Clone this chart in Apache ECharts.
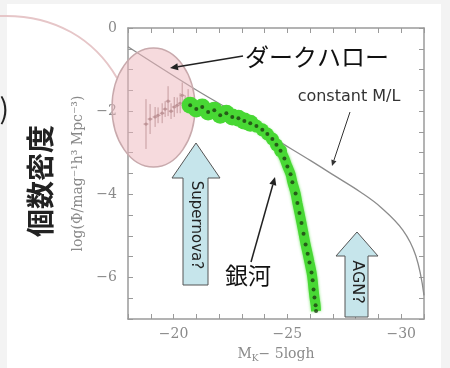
<!DOCTYPE html>
<html>
<head>
<meta charset="utf-8">
<script src="https://cdn.jsdelivr.net/npm/echarts@6/dist/echarts.min.js"></script>
<style>
html,body{margin:0;padding:0;background:#f3f3f3;}
#c{width:450px;height:368px;}
</style>
</head>
<body>
<div id="c"></div>
<script>
// ---- data ----
// x-axis: M_K - 5 log h (reversed), y-axis: log(Phi)
const xTickLabels = [-20, -25, -30];
const yTickLabels = [0, -2, -4, -6];

// "constant M/L" model curve
const mlX = [-18.00, -20.82, -22.93, -24.17, -26.02, -27.12, -28.22, -29.10, -30.07, -30.64, -31.00];
const mlY = [-0.45, -1.43, -2.12, -2.57, -3.19, -3.57, -3.95, -4.31, -4.86, -5.48, -6.43];

// galaxy luminosity function points (green band)
const galX = [-20.73, -21.00, -21.26, -21.52, -21.79, -22.05, -22.32, -22.58, -22.85, -23.11,
              -23.37, -23.64, -23.90, -24.12, -24.34, -24.52, -24.70, -24.87, -25.00, -25.14,
              -25.22, -25.36, -25.44, -25.53, -25.62, -25.71, -25.80, -25.89, -25.97, -26.06,
              -26.11, -26.15, -26.19, -26.24, -26.26];
const galY = [-1.86, -1.95, -1.90, -2.02, -1.98, -2.10, -2.05, -2.14, -2.17, -2.24,
              -2.29, -2.36, -2.45, -2.55, -2.67, -2.81, -2.95, -3.14, -3.33, -3.52,
              -3.71, -3.98, -4.21, -4.45, -4.69, -4.95, -5.21, -5.43, -5.64, -5.88,
              -6.07, -6.29, -6.48, -6.67, -6.81];

// faint points inside the dark-halo ellipse
const haloX = [-18.79, -18.97, -19.19, -19.32, -19.50, -19.63, -19.76, -19.89, -20.03, -20.16, -20.29, -20.38, -20.51, -20.64];
const haloY = [-2.31, -2.19, -2.14, -2.10, -2.05, -1.95, -1.76, -2.00, -1.90, -1.86, -1.81, -1.62, -1.81, -1.71];
const haloErr = [0.60, 0.36, 0.24, 0.19, 0.24, 0.19, 0.36, 0.19, 0.24, 0.19, 0.24, 0.31, 0.19, 0.24];

// ---- build ----
const mlData = mlX.map((x, i) => [x, mlY[i]]);
const galData = galX.map((x, i) => [x, galY[i]]);
const haloData = haloX.map((x, i) => [x, haloY[i], haloErr[i]]);

const minus = v => String(v).replace('-', '\u2212');
const axisGray = '#9a9a9a';
const labelStyle = {color: '#8a8a8a', fontSize: 14, fontFamily: 'DejaVu Serif'};

function arrow(x1, y1, x2, y2, color, w, head) {
  const a = Math.atan2(y2 - y1, x2 - x1);
  const hw = head * 0.45;
  const bx = x2 - head * Math.cos(a), by = y2 - head * Math.sin(a);
  return [
    {type: 'line', z: 10, silent: true, shape: {x1: x1, y1: y1, x2: bx, y2: by}, style: {stroke: color, lineWidth: w}},
    {type: 'polygon', z: 10, silent: true, shape: {points: [
      [x2, y2],
      [bx + hw * Math.sin(a), by - hw * Math.cos(a)],
      [bx - hw * Math.sin(a), by + hw * Math.cos(a)]
    ]}, style: {fill: color}}
  ];
}

const chart = echarts.init(document.getElementById('c'), null, {renderer: 'canvas'});

const xBase = {
  type: 'value', min: -31, max: -18, interval: 1, inverse: true,
  splitLine: {show: false},
  axisLine: {show: true, onZero: false, lineStyle: {color: axisGray, width: 1.5}},
  axisTick: {show: true, inside: true, length: 5, lineStyle: {color: axisGray}}
};
const yBase = {
  type: 'value', min: -7, max: 0, interval: 0.5,
  splitLine: {show: false},
  axisLine: {show: true, onZero: false, lineStyle: {color: axisGray, width: 1.5}},
  axisTick: {show: true, inside: true, length: 5, lineStyle: {color: axisGray}}
};

const graphics = [
  {type: 'rect', z: -100, silent: true, shape: {x: 7, y: 4, width: 434, height: 364}, style: {fill: '#ffffff'}},
  {type: 'bezierCurve', z: 1, silent: true,
   shape: {x1: 0, y1: 16, cpx1: 55, cpy1: 14, cpx2: 95, cpy2: 40, x2: 117, y2: 78},
   style: {stroke: '#e6c6c8', lineWidth: 2, fill: null}},
  {type: 'ellipse', z: 3, silent: true, shape: {cx: 153.5, cy: 107.5, rx: 41.5, ry: 59.5},
   style: {fill: 'rgba(238,182,188,0.5)', stroke: '#c8a9ac', lineWidth: 1.5}},
  {type: 'polygon', z: 8, silent: true,
   shape: {points: [[196,143],[220,178],[208,178],[208,285],[183,285],[183,178],[172,178]]},
   style: {fill: '#c6e5eb', stroke: '#555', lineWidth: 1}},
  {type: 'polygon', z: 8, silent: true,
   shape: {points: [[357,232],[378,256],[368,256],[368,317],[345,317],[345,256],[336,256]]},
   style: {fill: '#c6e5eb', stroke: '#555', lineWidth: 1}},
  {type: 'text', z: 9, silent: true, x: 196, y: 225, rotation: -Math.PI / 2,
   style: {text: 'Supernova?', fontSize: 15, fontFamily: 'DejaVu Sans', fill: '#222', align: 'center', verticalAlign: 'middle'}},
  {type: 'text', z: 9, silent: true, x: 357, y: 282, rotation: -Math.PI / 2,
   style: {text: 'AGN?', fontSize: 16, fontFamily: 'DejaVu Sans', fill: '#222', align: 'center', verticalAlign: 'middle'}},
  {type: 'text', z: 9, silent: true, x: 40, y: 181, rotation: Math.PI / 2,
   style: {text: '個数密度', fontSize: 28, fontWeight: 'bold', fontFamily: 'Noto Sans CJK JP', fill: '#222', align: 'center', verticalAlign: 'middle'}},
  {type: 'text', z: 9, silent: true, x: 9, y: 108,
   style: {text: ')', fontSize: 28, fontFamily: 'Noto Sans CJK JP', fill: '#222', align: 'right', verticalAlign: 'middle'}},
  {type: 'text', z: 9, silent: true, x: 245, y: 57,
   style: {text: 'ダークハロー', fontSize: 24, fontFamily: 'Noto Sans CJK JP', fill: '#111', align: 'left', verticalAlign: 'middle'}},
  {type: 'text', z: 9, silent: true, x: 349, y: 97,
   style: {text: 'constant M/L', fontSize: 16, fontFamily: 'DejaVu Sans', fill: '#333', align: 'center', verticalAlign: 'middle'}},
  {type: 'text', z: 9, silent: true, x: 248, y: 275,
   style: {text: '銀河', fontSize: 23, fontFamily: 'Noto Sans CJK JP', fill: '#111', align: 'center', verticalAlign: 'middle'}}
].concat(
  arrow(243, 56, 170, 68, '#222', 1.5, 8),
  arrow(350, 112, 332, 166, '#333', 1, 6),
  arrow(251, 262, 275, 177, '#222', 1.5, 8)
);

chart.setOption({
  animation: false,
  backgroundColor: '#f3f3f3',
  grid: {left: 128, right: 26, top: 28, bottom: 45, containLabel: false},
  xAxis: [
    Object.assign({}, xBase, {
      position: 'bottom',
      name: 'M{s|K}\u2212 5logh', nameLocation: 'middle', nameGap: 26,
      nameTextStyle: {color: '#8a8a8a', fontSize: 14, fontFamily: 'DejaVu Serif',
        rich: {s: {fontSize: 9, color: '#8a8a8a', fontFamily: 'DejaVu Serif', padding: [9, 0, 0, 0]}}},
      axisLabel: Object.assign({}, labelStyle, {margin: 8,
        formatter: v => xTickLabels.indexOf(v) >= 0 ? minus(v) : ''})
    }),
    Object.assign({}, xBase, {position: 'top', axisLabel: {show: false}})
  ],
  yAxis: [
    Object.assign({}, yBase, {
      position: 'left',
      name: 'log(\u03A6/mag\u207B\u00B9h\u00B3 Mpc\u207B\u00B3)', nameLocation: 'middle', nameGap: 42,
      nameTextStyle: {color: '#8a8a8a', fontSize: 14, fontFamily: 'DejaVu Serif'},
      axisLabel: Object.assign({}, labelStyle, {margin: 11,
        formatter: v => yTickLabels.indexOf(v) >= 0 ? minus(v) : ''})
    }),
    Object.assign({}, yBase, {position: 'right', axisLabel: {show: false}})
  ],
  graphic: graphics,
  series: [
    {
      type: 'custom', z: 2, xAxisIndex: 0, yAxisIndex: 0, data: haloData,
      renderItem: (params, api) => {
        const x = api.value(0), y = api.value(1), e = api.value(2);
        const p = api.coord([x, y]);
        const t = api.coord([x, y + e]);
        const b = api.coord([x, y - e]);
        return {type: 'group', children: [
          {type: 'line', shape: {x1: p[0], y1: t[1], x2: p[0], y2: b[1]}, style: {stroke: '#9c8080', lineWidth: 1}},
          {type: 'line', shape: {x1: p[0] - 2.5, y1: p[1], x2: p[0] + 2.5, y2: p[1]}, style: {stroke: '#9c8080', lineWidth: 1}},
          {type: 'circle', shape: {cx: p[0], cy: p[1], r: 1.6}, style: {fill: '#8f7070'}}
        ]};
      }
    },
    {
      type: 'line', z: 2, data: mlData, smooth: 0.4, showSymbol: false, symbol: 'none',
      lineStyle: {color: '#8c8c8c', width: 1.3}
    },
    {
      type: 'line', z: 5, data: galData, smooth: 0.3, showSymbol: false, symbol: 'none',
      lineStyle: {color: '#48d834', width: 10, shadowColor: 'rgba(70,220,50,0.8)', shadowBlur: 3}
    },
    {
      type: 'scatter', z: 5, data: galData,
      symbolSize: v => v[1] > -2.3 ? 17 : (v[1] > -3.0 ? 13 : 0),
      itemStyle: {color: '#48d834', opacity: 1}
    },
    {
      type: 'scatter', z: 6, data: galData, symbolSize: 4,
      itemStyle: {color: '#1d3d12'}
    }
  ]
});
</script>
</body>
</html>
